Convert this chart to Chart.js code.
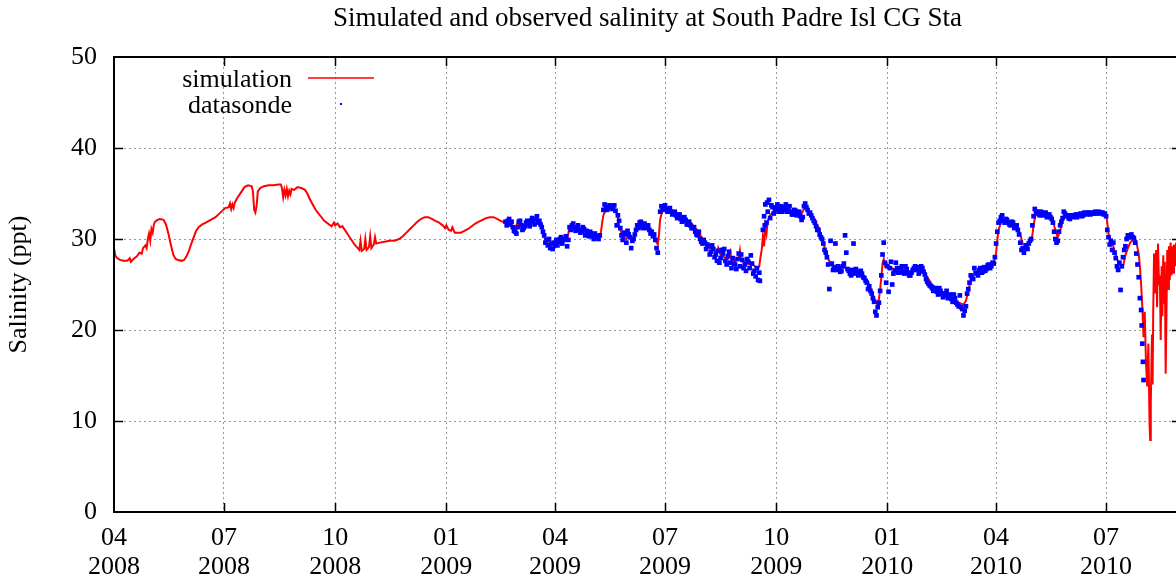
<!DOCTYPE html>
<html>
<head>
<meta charset="utf-8">
<script src="https://cdn.jsdelivr.net/npm/chart.js@4.4.0/dist/chart.umd.min.js"></script>
<style>
  html, body { margin: 0; padding: 0; background: #fff; overflow: hidden; }
</style>
</head>
<body>
<canvas id="salChart" width="1190" height="581"></canvas>
<script>
// days counted from 1 Apr 2008
const tickDays = [0, 91, 183, 275, 365, 456, 548, 640, 730, 821];
const tickMonths = ['04', '07', '10', '01', '04', '07', '10', '01', '04', '07'];
const tickYears = ['2008', '2008', '2008', '2009', '2009', '2009', '2009', '2010', '2010', '2010'];

// simulated salinity [day, ppt]
const simulation = [
  [0,29.0],[1,28.2],[2.5,27.9],[5,27.7],[8,27.6],[11,27.6],[13,27.9],[14,27.5],[16,27.8],[19,28.1],
  [21,28.5],[23,28.4],[24,29.0],[26,29.3],[27,29.0],[28,30.0],[29,30.6],[30,29.8],[31,31.1],[32,30.7],
  [33,31.6],[34,31.9],[36,32.1],[38,32.2],[41,32.1],[43,31.6],[45,30.6],[47,29.4],[49,28.3],[51,27.8],
  [53,27.7],[56,27.6],[58,27.7],[60,28.1],[62,28.7],[64,29.5],[66,30.2],[68,30.9],[70,31.3],[73,31.6],
  [76,31.8],[80,32.1],[84,32.4],[88,32.9],[92,33.4],[95,33.5],[96,33.9],[97,33.3],[98,33.8],[99,33.4],
  [100,34.0],[102,34.5],[105,35.1],[108,35.7],[111,35.9],[114,35.8],[115,35.2],[116,33.2],[117,32.9],[118,33.6],
  [119,35.2],[121,35.6],[124,35.8],[128,35.9],[132,35.9],[136,36.0],[138,36.0],[139,35.6],[140,34.6],[141,35.4],
  [142,34.8],[143,35.5],[144,34.7],[145,35.3],[146,34.9],[147,35.5],[149,35.4],[152,35.7],[155,35.6],[158,35.4],
  [160,35.0],[162,34.4],[164,33.9],[166,33.4],[168,33.0],[171,32.5],[174,32.0],[176,31.8],[178,31.6],[180,31.4],
  [182,31.8],[183,31.5],[185,31.7],[187,31.3],[189,31.4],[191,31.0],[193,30.6],[195,30.2],[197,29.8],[199,29.4],
  [201,29.1],[203,28.8],[204,29.8],[205,28.7],[207,28.9],[208,30.0],[209,28.8],[211,29.1],[212,30.3],[213,29.0],
  [215,29.4],[216,30.2],[217,29.5],[220,29.6],[224,29.7],[228,29.8],[232,29.8],[236,30.0],[239,30.3],[242,30.7],
  [245,31.1],[248,31.5],[251,31.9],[254,32.2],[257,32.4],[260,32.4],[263,32.2],[266,32.0],[269,31.8],[272,31.5],
  [274,31.2],[275,31.5],[277,31.0],[279,30.9],[280,31.3],[282,30.7],[284,30.7],[287,30.7],[290,30.9],[293,31.1],
  [296,31.4],[299,31.7],[302,31.9],[305,32.1],[308,32.3],[311,32.4],[314,32.4],[317,32.2],[320,32.0],[323,31.8],
  [326,31.7],[328,31.8],[330,31.4],[332,31.0],[334,31.8],[336,31.5],[338,31.3],[340,31.7],[343,31.7],[346,31.9],
  [348,32.0],[350,32.3],[352,31.9],[354,31.2],[356,30.2],[358,29.6],[360,29.8],[362,29.4],[364,29.3],[366,29.7],
  [368,29.8],[371,30.1],[374,30.0],[375,30.0],[376,30.6],[377,31.3],[379,31.2],[382,31.4],[385,31.2],[388,31.0],
  [391,30.8],[394,30.7],[397,30.5],[400,30.4],[402,30.3],[403,30.8],[404,31.8],[405,32.6],[407,33.2],[410,33.4],
  [413,33.4],[415,33.1],[417,32.4],[418,31.5],[420,30.6],[422,30.2],[424,30.0],[426,30.4],[428,29.9],[430,30.2],
  [432,31.0],[434,31.5],[437,31.6],[440,31.6],[443,31.3],[446,30.6],[448,30.2],[449,29.6],[450,29.4],[451,30.5],
  [452,32.2],[454,33.2],[457,33.4],[460,33.3],[463,33.0],[466,32.9],[469,32.6],[472,32.3],[475,32.0],[478,31.7],
  [481,31.2],[484,30.8],[487,30.0],[490,29.5],[493,29.0],[496,28.8],[499,28.4],[500,29.0],[502,28.2],[505,28.0],
  [508,27.8],[510,28.6],[511,27.7],[514,27.6],[517,27.8],[518,28.7],[519,27.6],[522,27.5],[525,27.2],[528,27.3],
  [531,26.9],[533,26.8],[534,27.0],[535,28.0],[536,28.8],[537,30.3],[538,29.2],[539,31.4],[540,30.6],[541,32.0],
  [543,32.6],[545,32.9],[548,33.1],[551,33.2],[554,33.2],[557,33.3],[560,33.1],[563,33.0],[566,32.8],[569,32.8],
  [571,33.3],[573,33.4],[575,32.9],[578,32.5],[580,31.9],[583,31.3],[585,30.4],[587,29.6],[589,28.6],[591,27.8],
  [593,27.3],[595,26.9],[598,26.7],[600,26.8],[602,26.9],[604,27.2],[606,26.8],[608,26.4],[611,26.4],[614,26.4],
  [617,26.2],[620,26.0],[622,25.6],[624,25.3],[626,24.6],[628,23.9],[630,23.2],[632,22.8],[633,23.4],[634,24.4],
  [635,25.8],[636,27.3],[637,27.8],[638,27.0],[640,27.2],[642,26.9],[644,26.8],[647,26.6],[650,26.7],[653,26.6],
  [656,26.4],[659,26.2],[662,26.5],[664,26.6],[666,26.9],[669,26.7],[671,26.3],[674,25.6],[677,25.0],[680,24.7],
  [683,24.4],[686,24.2],[689,24.0],[692,23.7],[695,23.4],[698,23.1],[701,22.9],[703,22.8],[705,23.2],[707,24.3],
  [709,25.5],[711,26.0],[714,26.2],[717,26.4],[720,26.6],[723,26.9],[726,27.1],[728,27.3],[730,28.5],[731,29.9],
  [732,31.0],[734,31.8],[736,32.0],[739,32.0],[742,31.7],[745,31.5],[748,31.2],[750,30.5],[752,29.5],[754,29.3],
  [756,29.2],[758,29.5],[760,30.4],[761,31.6],[763,32.8],[766,32.8],[769,32.8],[772,32.6],[775,32.4],[777,32.0],
  [779,31.0],[781,30.2],[783,30.9],[785,32.0],[787,32.5],[790,32.3],[793,32.4],[796,32.5],[800,32.6],[804,32.7],
  [808,32.8],[812,32.9],[816,32.9],[819,32.9],[821,32.8],[822,31.8],[823,30.6],[825,29.8],[827,29.2],[829,28.2],
  [831,27.5],[833,27.1],[835,27.0],[837,28.2],[839,29.0],[841,29.6],[843,29.9],[845,30.0],[846,29.8],[847,29.0],
  [848,28.4],[849,27.0],[850,25.0],[851,22.5],[852,19.2],[853,22.0],[854,16.5],[855,13.8],[856,18.5],[857,9.5],
  [857.5,7.9],[858,12.0],[859,19.5],[859.5,14.0],[860,22.0],[860.7,28.4],[861.5,24.0],[862.4,28.8],[863.2,22.5],[864,29.5],
  [864.8,25.0],[865.5,26.0],[866.2,18.9],[867,27.0],[867.6,21.5],[868.3,28.2],[869,23.0],[869.6,27.5],[870.3,15.2],[871,22.0],
  [871.6,28.8],[872.3,24.5],[873,29.2],[873.7,25.5],[874.4,29.6],[875.1,26.0],[875.8,29.2],[876.5,26.3],[877.2,29.4],[878,27.0],
  [879,29.6],[880,28.0],[881,29.8],[882,27.5],[883,29.4]
];

// datasonde observations [day, ppt], centre of the band and its upper/lower edges
const datasonde = [
  [324,31.9],[325,31.5],[326,32.0],[327,32.2],[328,31.6],[329,31.9],[330,31.3],[331,30.9],[332,30.8],[333,30.6],
  [334,31.3],[335,31.9],[336,32.0],[337,31.5],[338,31.0],[339,31.2],[340,31.4],[341,31.8],[342,32.0],[343,31.6],
  [344,31.4],[345,32.0],[346,32.3],[347,31.9],[348,31.6],[349,32.2],[350,32.5],[351,31.8],[352,32.0],[353,31.6],
  [354,31.3],[355,30.8],[356,30.4],[357,29.6],[358,29.9],[359,29.3],[360,30.0],[361,29.0],[362,29.5],[363,28.9],
  [364,29.6],[365,29.3],[366,29.9],[367,29.3],[368,29.7],[369,30.0],[370,30.2],[371,29.5],[372,29.9],[373,30.0],
  [374,30.3],[375,29.2],[376,29.9],[377,31.3],[378,31.0],[379,31.5],[380,31.7],[381,31.2],[382,30.9],[383,31.3],
  [384,31.5],[385,31.0],[386,30.7],[387,30.9],[388,31.3],[389,31.1],[390,30.4],[391,30.9],[392,30.6],[393,30.3],
  [394,30.8],[395,30.6],[396,30.3],[397,30.0],[398,30.6],[399,30.3],[400,30.2],[401,30.0],[402,30.4],
  [405,33.2],[406,33.8],[407,33.5],[408,33.2],[409,33.4],[410,33.7],[411,33.6],[412,33.3],[413,33.5],[414,33.7],
  [415,33.1],[416,31.5],[417,32.6],[418,32.0],[419,31.2],[420,30.4],[421,29.9],[422,30.7],[423,30.5],[424,29.6],
  [425,30.9],[426,30.5],[427,30.2],[428,29.0],[429,29.8],[430,30.0],[431,30.5],[432,31.0],[433,31.5],[434,31.2],
  [435,31.8],[436,31.9],[437,31.4],[438,31.2],[439,31.7],[440,31.5],[441,31.2],[442,31.5],[443,31.0],[444,30.6],
  [445,30.8],[446,30.3],[447,30.5],[448,29.9],[449,29.0],[450,28.5],
  [452,33.0],[453,33.6],[454,33.2],[455,33.5],[456,33.7],[457,33.3],[458,33.0],[459,33.2],[460,33.4],[461,33.0],
  [462,32.7],[463,32.9],[464,33.0],[465,32.6],[466,32.3],[467,32.5],[468,32.7],[469,32.2],[470,31.9],[471,32.0],
  [472,32.4],[473,32.1],[474,31.6],[475,31.6],[476,31.9],[477,31.5],[478,31.2],[479,31.2],[480,31.3],[481,30.8],
  [482,30.5],[483,30.4],[484,30.8],[485,30.0],[486,29.7],[487,29.5],[488,29.9],[489,29.6],[490,28.9],[491,29.4],
  [492,29.2],[493,28.3],[494,28.6],[495,29.3],[496,28.9],[497,28.0],[498,28.3],[499,27.6],[500,28.7],[501,27.4],
  [502,27.9],[503,28.8],[504,28.4],[505,28.9],[506,27.6],[507,27.2],[508,28.1],[509,28.6],[510,27.4],[511,26.8],
  [512,27.9],[513,27.3],[514,27.2],[515,26.7],[516,27.8],[517,28.4],[518,27.0],[519,28.3],[520,27.7],[521,26.8],
  [522,27.2],[523,26.5],[524,27.8],[525,27.5],[526,26.8],[527,28.2],[528,27.3],[529,26.2],[530,26.5],[531,25.9],
  [532,26.8],[533,25.5],[534,26.3],[534.5,25.4],
  [537,31.0],[538,32.5],[538.5,31.5],[539,33.8],[540,31.8],[540.5,34.0],[541,33.0],[542,34.3],[543,32.3],[544,33.7],
  [545,33.5],[546,32.8],[547,33.3],[548,33.4],[549,33.8],[550,33.0],[551,33.3],[552,33.6],[553,33.0],[554,33.2],
  [555,33.5],[556,33.8],[557,33.0],[558,33.3],[559,33.6],[560,33.0],[561,32.7],[562,32.7],[563,33.2],[564,33.1],
  [565,32.6],[566,32.8],[567,33.0],[568,32.5],[569,32.1],[570,32.4],[571,33.6],[572,33.9],[573,33.5],[574,33.2],
  [575,32.8],[576,32.9],[577,32.6],[578,32.3],[579,32.0],[580,31.8],[581,31.4],[582,31.0],[583,31.0],[584,30.5],
  [585,30.2],[586,30.0],[587,29.5],[588,28.8],[589,28.5],[590,28.0],[591,27.2],[592,24.5],[593,29.8],[594,27.3],
  [595,26.6],[596,26.9],[597,29.5],[598,26.6],[599,27.0],[600,26.8],[601,26.4],[602,26.5],[603,27.0],[604,27.3],
  [605,30.4],[606,28.5],[607,26.7],[608,26.5],[609,26.2],[610,26.0],[611,26.6],[612,29.5],[613,26.2],[614,26.7],
  [615,26.4],[616,26.0],[617,26.1],[618,26.5],[619,26.2],[620,25.8],[621,25.7],[622,25.4],[623,25.2],[624,24.5],
  [625,24.8],[626,24.3],[627,24.0],[628,23.5],[629,23.1],[630,22.0],[631,21.6],[632,22.5],[633,23.0],[634,24.3],
  [635,26.0],[636,28.3],[637,29.6],[638,27.4],[639,25.2],[640,27.0],[641,24.2],[642,26.8],[643,27.5],[644,25.0],
  [645,26.2],[646,26.5],[647,27.4],[648,26.8],[649,26.3],[650,26.3],[651,26.8],[652,27.0],[653,26.4],[654,26.2],
  [655,27.0],[656,26.7],[657,26.3],[658,26.0],[659,26.0],[660,26.3],[661,26.6],[662,26.8],[663,27.0],[664,26.6],
  [665,26.9],[666,26.2],[667,26.5],[668,27.0],[669,26.8],[670,26.4],[671,26.1],[672,25.6],[673,25.3],[674,25.1],
  [675,24.9],[676,24.8],[677,24.6],[678,24.3],[679,24.5],[680,24.6],[681,24.2],[682,23.9],[683,24.6],[684,24.3],
  [685,24.0],[686,23.6],[687,23.8],[688,24.0],[689,24.3],[690,23.5],[691,23.6],[692,23.9],[693,23.4],[694,23.1],
  [695,23.9],[696,23.5],[697,23.0],[698,22.8],[699,22.6],[700,23.8],[701,22.5],[702,22.3],[703,21.6],[704,22.1],
  [705,22.6],[706,24.0],[707,24.5],[708,25.2],[709,26.0],[710,25.7],[711,25.6],[712,26.8],[713,26.3],[714,26.2],
  [715,26.0],[716,26.6],[717,26.8],[718,26.3],[719,26.4],[720,26.9],[721,26.5],[722,26.7],[723,27.1],[724,27.2],
  [725,26.8],[726,27.0],[727,27.4],[728,27.3],[729,28.0],[730,29.5],[731,30.8],[732,31.8],[733,32.0],[734,32.4],
  [735,32.6],[736,32.0],[737,31.8],[738,32.2],[739,32.1],[740,31.8],[741,31.6],[742,31.5],[743,31.9],[744,31.8],
  [745,31.2],[746,31.3],[747,31.5],[748,31.0],[749,30.5],[750,29.6],[751,28.8],[752,29.0],[753,28.5],[754,29.0],
  [755,29.3],[756,28.9],[757,29.5],[758,29.8],[759,30.0],[760,31.5],[761,32.5],[762,33.3],[763,33.0],[764,33.0],
  [765,32.8],[766,32.6],[767,33.0],[768,32.9],[769,32.6],[770,32.8],[771,32.9],[772,32.4],[773,32.5],[774,32.7],
  [775,32.4],[776,32.2],[777,31.8],[778,30.8],[779,30.0],[780,29.6],[781,29.8],[782,30.8],[783,31.5],[784,31.9],
  [785,32.3],[786,33.0],[787,32.8],[788,32.5],[789,32.6],[790,32.3],[791,32.2],[792,32.6],[793,32.5],[794,32.4],
  [795,32.6],[796,32.7],[797,32.4],[798,32.6],[799,32.7],[800,32.8],[801,32.5],[802,32.6],[803,32.9],[804,32.8],
  [805,32.7],[806,32.9],[807,32.9],[808,32.7],[809,32.8],[810,32.9],[811,32.8],[812,33.0],[813,32.8],[814,32.9],
  [815,33.0],[816,32.8],[817,32.9],[818,32.9],[819,32.7],[820,32.8],[821,32.5],[822,31.0],[823,30.2],[824,29.4],
  [825,29.8],[826,28.8],[827,29.6],[828,28.5],[829,27.9],[830,27.0],[831,26.6],[832,27.4],[833,24.4],[834,27.0],
  [835,28.0],[836,28.8],[837,29.2],[838,30.0],[839,30.4],[840,30.2],[841,30.4],[842,30.5],[843,30.2],[844,30.1],
  [845,29.6],[846,28.4],[847,27.2],[848,25.8],[849,23.5],[850,22.2],[850.5,20.5],[851,18.5],[851.5,16.5],[852,14.5]
];

const chartTitle = 'Simulated and observed salinity at South Padre Isl CG Sta';
const serif = '"Liberation Serif", "DejaVu Serif", serif';
const tickFont = { family: serif, size: 26, lineHeight: 1.1 };

const gnuplotFrame = {
    id: 'gnuplotFrame',
    afterDraw(chart) {
        const { ctx, chartArea: a, scales } = chart;
        ctx.save();

        // border
        ctx.strokeStyle = '#000';
        ctx.lineWidth = 2;
        ctx.strokeRect(a.left, a.top, a.right - a.left, a.bottom - a.top);

        // inward tick marks on all four sides
        ctx.lineWidth = 1.5;
        ctx.beginPath();
        scales.y.ticks.forEach(t => {
            if (t.value <= 0 || t.value >= 50) return;
            const py = Math.round(scales.y.getPixelForValue(t.value)) + 0.5;
            ctx.moveTo(a.left, py); ctx.lineTo(a.left + 9, py);
            ctx.moveTo(a.right, py); ctx.lineTo(a.right - 9, py);
        });
        tickDays.forEach(d => {
            if (d <= 0) return;
            const px = Math.round(scales.x.getPixelForValue(d)) + 0.5;
            ctx.moveTo(px, a.bottom); ctx.lineTo(px, a.bottom - 9);
            ctx.moveTo(px, a.top); ctx.lineTo(px, a.top + 9);
        });
        ctx.stroke();

        // title
        ctx.fillStyle = '#000';
        ctx.font = '27px ' + serif;
        ctx.textAlign = 'center';
        ctx.textBaseline = 'middle';
        ctx.fillText(chartTitle, (a.left + a.right) / 2, 19);

        // key, gnuplot style: text right-aligned, sample to the right
        ctx.font = '26px ' + serif;
        ctx.textAlign = 'right';
        ctx.fillText('simulation', 292, 80);
        ctx.fillText('datasonde', 292, 106);
        ctx.strokeStyle = 'rgb(255, 0, 0)';
        ctx.lineWidth = 1.6;
        ctx.beginPath();
        ctx.moveTo(308, 78);
        ctx.lineTo(374, 78);
        ctx.stroke();
        ctx.fillStyle = '#0000ff';
        ctx.fillRect(340, 103, 2, 2);

        ctx.restore();
    }
};

function LoadSalinityChart() {
    const ctx = document.getElementById('salChart').getContext('2d');

    new Chart(ctx, {
        type: 'line',
        data: {
            datasets: [{
                label: 'datasonde',
                type: 'scatter',
                data: datasonde.map(p => ({ x: p[0], y: p[1] })),
                showLine: false,
                pointStyle: 'rect',
                pointRadius: 3.3,
                pointBorderWidth: 0,
                backgroundColor: '#0000ff',
                borderColor: '#0000ff',
                order: 1
            }, {
                label: 'simulation',
                data: simulation.map(p => ({ x: p[0], y: p[1] })),
                borderColor: '#ff0000',
                borderWidth: 2,
                pointRadius: 0,
                tension: 0,
                fill: false,
                order: 2
            }]
        },
        options: {
            responsive: false,
            animation: false,
            events: [],
            layout: { padding: { top: 57, right: 9, left: 0, bottom: 0 } },
            plugins: {
                legend: { display: false },
                tooltip: { enabled: false },
                title: { display: false }
            },
            scales: {
                x: {
                    type: 'linear',
                    min: 0,
                    max: 883,
                    afterBuildTicks: s => { s.ticks = tickDays.map(v => ({ value: v })); },
                    afterFit: s => { s.height = 69; },
                    ticks: {
                        callback: (v, i) => [tickMonths[i], tickYears[i]],
                        autoSkip: false,
                        maxRotation: 0,
                        padding: 12,
                        color: '#000',
                        font: tickFont
                    },
                    grid: { color: '#9a9a9a', lineWidth: 1, drawTicks: false },
                    border: { display: false, dash: [2, 3] }
                },
                y: {
                    min: 0,
                    max: 50,
                    afterFit: s => { s.width = 114; },
                    ticks: { stepSize: 10, padding: 17, color: '#000', font: tickFont },
                    grid: { color: '#9a9a9a', lineWidth: 1, drawTicks: false },
                    border: { display: false, dash: [2, 3] },
                    title: {
                        display: true,
                        text: 'Salinity (ppt)',
                        color: '#000',
                        font: { family: serif, size: 26 },
                        padding: { top: 4, bottom: 0 }
                    }
                }
            }
        },
        plugins: [gnuplotFrame]
    });
}

LoadSalinityChart();
</script>
</body>
</html>
